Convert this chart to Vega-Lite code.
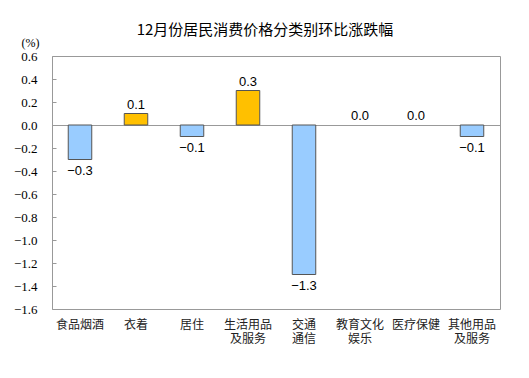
{
  "$schema": "https://vega.github.io/schema/vega-lite/v6.json",
  "autosize": "none",
  "width": 448,
  "height": 253,
  "padding": {"left": 52, "top": 56, "right": 29, "bottom": 69},
  "background": "white",
  "title": {
    "text": "12月份居民消费价格分类别环比涨跌幅",
    "font": "Noto Sans CJK SC",
    "fontSize": 15,
    "fontWeight": "normal",
    "color": "#000000",
    "anchor": "middle",
    "baseline": "middle",
    "dx": -11,
    "offset": -9
  },
  "config": {
    "view": {"stroke": "#999999", "strokeWidth": 1},
    "axis": {"domain": false}
  },
  "data": {
    "values": [
      {"cat": "食品烟酒", "v": -0.3},
      {"cat": "衣着", "v": 0.1},
      {"cat": "居住", "v": -0.1},
      {"cat": "生活用品|及服务", "v": 0.3},
      {"cat": "交通|通信", "v": -1.3},
      {"cat": "教育文化|娱乐", "v": 0.0},
      {"cat": "医疗保健", "v": 0.0},
      {"cat": "其他用品|及服务", "v": -0.1}
    ]
  },
  "encoding": {
    "x": {
      "field": "cat",
      "type": "nominal",
      "sort": null,
      "scale": {
        "domain": ["食品烟酒", "衣着", "居住", "生活用品|及服务", "交通|通信", "教育文化|娱乐", "医疗保健", "其他用品|及服务"],
        "paddingInner": 0.58,
        "paddingOuter": 0.29
      },
      "axis": {
        "title": null,
        "labelAngle": 0,
        "labelExpr": "split(datum.label, '|')",
        "labelFont": "Noto Sans CJK SC",
        "labelFontSize": 12,
        "labelColor": "#222222",
        "labelLineHeight": 14,
        "labelPadding": 10,
        "labelOverlap": false,
        "ticks": false,
        "labelBaseline": "top"
      }
    },
    "y": {
      "field": "v",
      "type": "quantitative",
      "scale": {"domain": [-1.6, 0.6], "nice": false},
      "axis": {
        "values": [-1.6, -1.4, -1.2, -1.0, -0.8, -0.6, -0.4, -0.2, 0, 0.2, 0.4, 0.6],
        "format": ".1f",
        "grid": true,
        "gridColor": "#999999",
        "gridOpacity": {"condition": {"test": "datum.value == 0", "value": 1}, "value": 0},
        "labelOverlap": false,
        "labelFont": "Liberation Serif",
        "labelFontSize": 13,
        "labelColor": "#000000",
        "tickSize": -4,
        "tickColor": "#999999",
        "labelPadding": 19,
        "title": "(%)",
        "titleAngle": 0,
        "titleX": -22,
        "titleY": -14,
        "titleAlign": "center",
        "titleBaseline": "middle",
        "titleFont": "Liberation Serif",
        "titleFontSize": 12,
        "titleFontWeight": "normal",
        "titleColor": "#000000"
      }
    }
  },
  "layer": [
    {
      "mark": {"type": "bar", "stroke": "#555555", "strokeWidth": 1},
      "encoding": {
        "y2": {"datum": 0},
        "strokeOpacity": {"condition": {"test": "datum.v == 0", "value": 0}, "value": 1},
        "color": {
          "condition": {"test": "datum.v > 0", "value": "#FFC000"},
          "value": "#99CCFF"
        }
      }
    },
    {
      "transform": [{"filter": "datum.v >= 0"}],
      "mark": {"type": "text", "font": "Liberation Sans", "fontSize": 13, "baseline": "bottom", "dy": -2, "color": "#000000"},
      "encoding": {
        "text": {"field": "v", "type": "quantitative", "format": ".1f"}
      }
    },
    {
      "transform": [{"filter": "datum.v < 0"}],
      "mark": {"type": "text", "font": "Liberation Sans", "fontSize": 13, "baseline": "top", "dy": 5, "color": "#000000"},
      "encoding": {
        "text": {"field": "v", "type": "quantitative", "format": ".1f"}
      }
    }
  ]
}
